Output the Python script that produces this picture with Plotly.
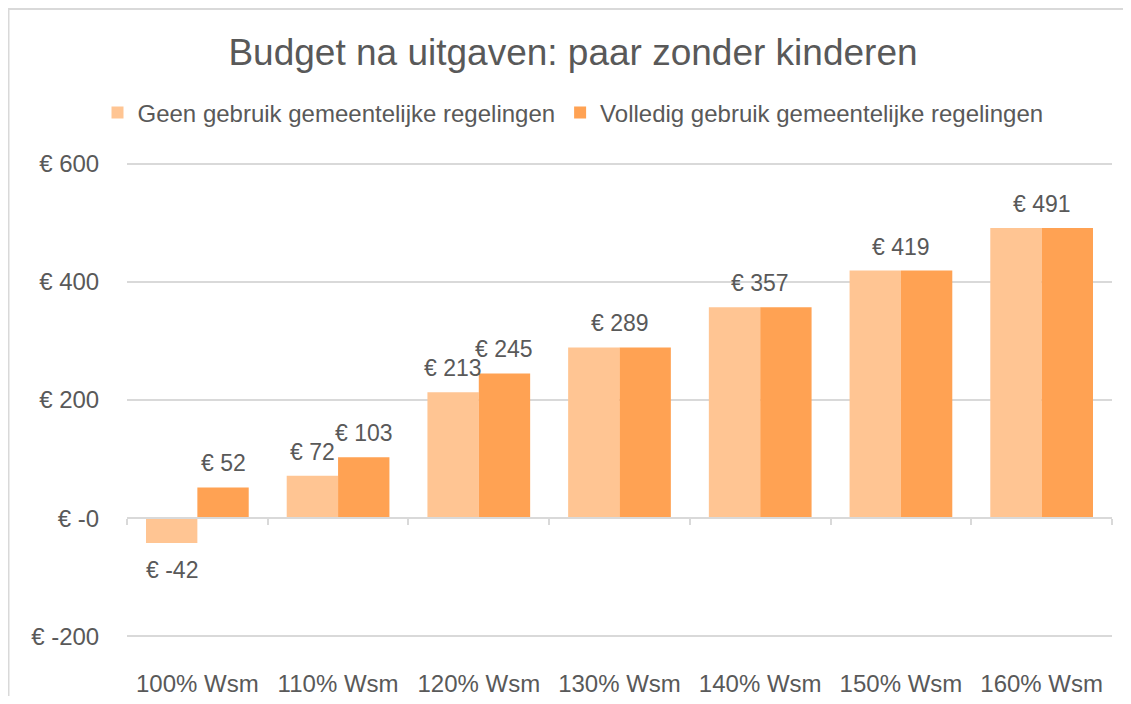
import plotly.graph_objects as go

categories = ["100% Wsm", "110% Wsm", "120% Wsm", "130% Wsm", "140% Wsm", "150% Wsm", "160% Wsm"]
series_names = ["Geen gebruik gemeentelijke regelingen", "Volledig gebruik gemeentelijke regelingen"]
geen_gebruik = [-42, 72, 213, 289, 357, 419, 491]
volledig_gebruik = [52, 103, 245, 289, 357, 419, 491]
y_tick_vals = [-200, 0, 200, 400, 600]
y_tick_text = ["€ -200", "€ -0", "€ 200", "€ 400", "€ 600"]
title_text = "Budget na uitgaven: paar zonder kinderen"

LIGHT = "#FFC593"
DARK = "#FFA253"
GRID = "#D9D9D9"
TEXT = "#595959"
FONT = "Liberation Sans, Arial, sans-serif"
BARGAP = 0.27

# page has an 8px body margin; figure sits at (8, 8)
OFF = 8
W, H = 1115, 688
Y_MIN, Y_MAX = -200, 600
Y_TOP_PX, Y_BOT_PX = 164 - OFF, 636 - OFF   # pixel rows of Y_MAX / Y_MIN
PAD = 6                                     # axis padding in data units so edge gridlines show
scale = (Y_BOT_PX - Y_TOP_PX) / (Y_MAX - Y_MIN)
ML, MR = 127 - OFF, W - (1112 - OFF)
MT = round(Y_TOP_PX - PAD * scale)
MB = round(H - (Y_BOT_PX + PAD * scale))
PW, PH = W - ML - MR, H - MT - MB
y_range = [Y_MIN - PAD, Y_MAX + PAD]


def px_to_paper_x(px):
    return (px - ML) / PW


def px_to_paper_y(py):
    return (H - MB - py) / PH


fig = go.Figure()
fig.add_trace(go.Bar(x=categories, y=geen_gebruik, name=series_names[0],
                     marker=dict(color=LIGHT, line=dict(width=0)), hoverinfo="x+y"))
fig.add_trace(go.Bar(x=categories, y=volledig_gebruik, name=series_names[1],
                     marker=dict(color=DARK, line=dict(width=0)), hoverinfo="x+y"))
# invisible helper trace for the axis drawn through zero (ticks at boundaries)
fig.add_trace(go.Scatter(x=categories, y=[0] * len(categories), xaxis="x2", mode="markers",
                         marker=dict(opacity=0), showlegend=False, hoverinfo="skip"))


def fmt(v):
    return f"€ {v}"


annotations = []
off = (1 - BARGAP) / 4
for i, (a, b) in enumerate(zip(geen_gebruik, volledig_gebruik)):
    if a == b:
        items = [(i, a)]
    else:
        items = [(i - off, a), (i + off, b)]
    for x, v in items:
        annotations.append(dict(x=x, y=v, xref="x", yref="y", text=fmt(v), showarrow=False,
                                yanchor="middle", yshift=24 if v >= 0 else -27,
                                font=dict(family=FONT, size=23, color=TEXT)))

zero_pos = (0 - y_range[0]) / (y_range[1] - y_range[0])

fig.update_layout(
    width=W, height=H,
    margin=dict(l=ML, r=MR, t=MT, b=MB, autoexpand=False),
    paper_bgcolor="white", plot_bgcolor="white",
    barmode="group", bargap=BARGAP, bargroupgap=0,
    title=dict(text=title_text, x=(573 - OFF) / W, xref="container", xanchor="center",
               y=1 - (52 - OFF) / H, yref="container", yanchor="middle",
               font=dict(family=FONT, size=37, color=TEXT)),
    legend=dict(orientation="h", x=px_to_paper_x(573 - OFF), xanchor="center",
                y=px_to_paper_y(113 - OFF), yanchor="middle",
                font=dict(family=FONT, size=24, color=TEXT), itemwidth=30,
                bgcolor="rgba(0,0,0,0)", traceorder="normal"),
    xaxis=dict(type="category", categoryarray=categories, range=[-0.5, len(categories) - 0.5],
               showgrid=False, showline=False, zeroline=False,
               ticks="outside", ticklen=22, tickcolor="rgba(0,0,0,0)",
               tickfont=dict(family=FONT, size=24, color=TEXT)),
    xaxis2=dict(type="category", categoryarray=categories, range=[-0.5, len(categories) - 0.5],
                overlaying="x", anchor="free", position=zero_pos, side="bottom",
                showticklabels=False, showgrid=False, zeroline=False,
                showline=True, linecolor=GRID, linewidth=2,
                ticks="outside", ticklen=6, tickwidth=2, tickcolor=GRID, tickson="boundaries"),
    yaxis=dict(range=y_range, tickvals=y_tick_vals, ticktext=y_tick_text,
               showgrid=True, gridcolor=GRID, gridwidth=1.5,
               zeroline=True, zerolinecolor=GRID, zerolinewidth=2,
               showline=False, ticks="outside", ticklen=22, tickcolor="rgba(0,0,0,0)",
               tickfont=dict(family=FONT, size=24, color=TEXT)),
    annotations=annotations,
    shapes=[
        dict(type="line", xref="paper", yref="paper",
             x0=px_to_paper_x(0.5), x1=px_to_paper_x(0.5),
             y0=px_to_paper_y(H), y1=px_to_paper_y(0),
             line=dict(color=GRID, width=2), layer="below"),
        dict(type="line", xref="paper", yref="paper",
             x0=px_to_paper_x(0), x1=px_to_paper_x(W),
             y0=px_to_paper_y(1), y1=px_to_paper_y(1),
             line=dict(color=GRID, width=2), layer="below"),
    ],
)

fig.write_html("out.html")
